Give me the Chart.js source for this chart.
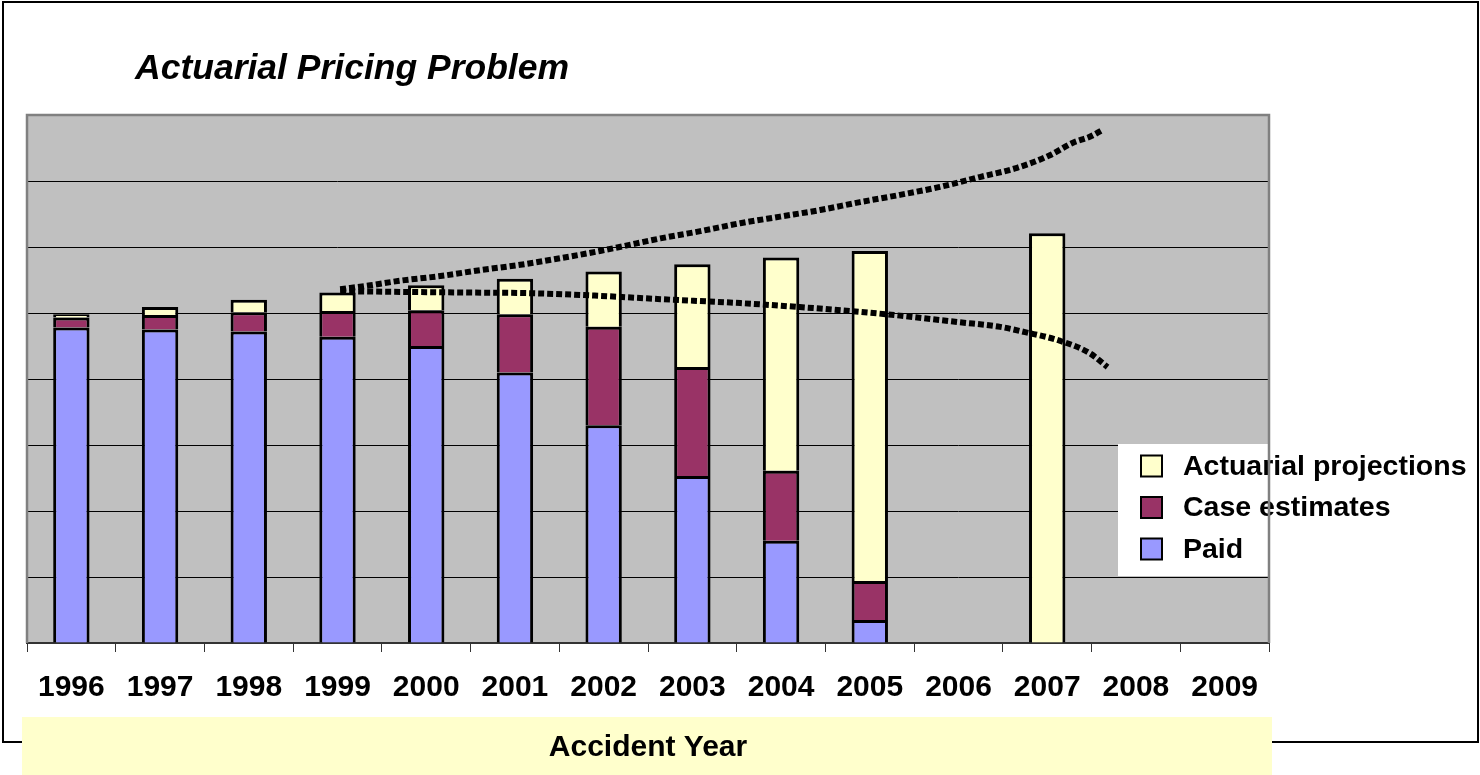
<!DOCTYPE html>
<html>
<head>
<meta charset="utf-8">
<title>Actuarial Pricing Problem</title>
<script src="https://cdn.jsdelivr.net/npm/chart.js@4.4.1/dist/chart.umd.min.js"></script>
<style>
  html, body { margin: 0; padding: 0; background: #ffffff; }
  #wrap { position: relative; width: 1480px; height: 775px; }
</style>
</head>
<body>
<div id="wrap"><canvas id="chart"></canvas></div>
<script>
// Accident years on the category axis
const years = ['1996', '1997', '1998', '1999', '2000', '2001', '2002',
               '2003', '2004', '2005', '2006', '2007', '2008', '2009'];

// Stacked components of ultimate losses per accident year
const paid          = [4.78, 4.75, 4.72, 4.64, 4.50, 4.10, 3.30, 2.53, 1.55, 0.35, null, null, null, null];
const caseEstimates = [0.15, 0.22, 0.29, 0.39, 0.54, 0.88, 1.49, 1.65, 1.06, 0.59, null, null, null, null];
const projections   = [0.05, 0.12, 0.19, 0.28, 0.38, 0.54, 0.84, 1.56, 3.23, 5.00, null, 6.21, null, null];

// Range of possible outcomes (upper and lower dotted curves)
const upperYears  = [1999.03, 1999.37, 1999.71, 2000.16, 2000.61, 2001.06, 2001.51, 2001.96, 2002.18, 2002.64,
                     2003.09, 2003.54, 2003.99, 2004.44, 2004.89, 2005.34, 2005.79, 2006.24, 2006.66, 2007.03,
                     2007.29, 2007.48, 2007.62];
const upperValues = [5.36, 5.42, 5.49, 5.56, 5.65, 5.73, 5.83, 5.94, 6.00, 6.13,
                     6.24, 6.36, 6.46, 6.56, 6.68, 6.79, 6.91, 7.06, 7.20, 7.39,
                     7.58, 7.67, 7.77];
const lowerYears  = [1999.03, 1999.71, 2000.49, 2001.17, 2001.96, 2002.64, 2003.54, 2004.21, 2004.78, 2005.34,
                     2006.01, 2006.47, 2006.75, 2007.14, 2007.48, 2007.68];
const lowerValues = [5.33, 5.32, 5.31, 5.30, 5.26, 5.21, 5.15, 5.09, 5.03, 4.96,
                     4.86, 4.79, 4.71, 4.58, 4.39, 4.18];

const chartTitle = 'Actuarial Pricing Problem';
const axisTitle  = 'Accident Year';

const FONT = "'Liberation Sans', Arial, Helvetica, sans-serif";
const C_PAID = '#9999FF';
const C_CASE = '#993366';
const C_PROJ = '#FFFFCC';

const toPoints = (xs, ys) => xs.map((x, i) => ({ x: x, y: ys[i] }));

// Page frame, title, axis-title band and plot background
const backdrop = {
  id: 'backdrop',
  beforeDraw(chart) {
    const { ctx, chartArea: a } = chart;
    ctx.save();
    ctx.fillStyle = '#ffffff';
    ctx.fillRect(0, 0, chart.width, chart.height);
    ctx.strokeStyle = '#000000';
    ctx.lineWidth = 2;
    ctx.strokeRect(3, 2, 1475, 740);
    ctx.fillStyle = C_PROJ;
    ctx.fillRect(22, 717, 1250, 58);
    ctx.fillStyle = '#C0C0C0';
    ctx.fillRect(a.left, a.top, a.right - a.left, a.bottom - a.top);
    ctx.fillStyle = '#000000';
    ctx.font = 'italic bold 35.5px ' + FONT;
    ctx.textBaseline = 'alphabetic';
    ctx.textAlign = 'left';
    ctx.fillText(chartTitle, 135, 79);
    ctx.restore();
  }
};

// Legend box over the lower right of the plot, then the plot frame
const overlay = {
  id: 'overlay',
  afterDraw(chart) {
    const { ctx, chartArea: a } = chart;
    const items = chart.data.datasets.filter(d => d.type === 'bar').slice().reverse();
    ctx.save();
    ctx.fillStyle = '#ffffff';
    ctx.fillRect(1118, 444, 160, 132);
    ctx.font = 'bold 28.5px ' + FONT;
    ctx.textBaseline = 'middle';
    ctx.textAlign = 'left';
    items.forEach((d, i) => {
      const cy = 466 + i * 41.5;
      ctx.fillStyle = d.backgroundColor;
      ctx.fillRect(1141, cy - 10.5, 21, 21);
      ctx.strokeStyle = '#000000';
      ctx.lineWidth = 2;
      ctx.strokeRect(1141, cy - 10.5, 21, 21);
      ctx.fillStyle = '#000000';
      ctx.fillText(d.label, 1183, cy + 1);
    });
    ctx.strokeStyle = '#808080';
    ctx.lineWidth = 2.5;
    ctx.beginPath();
    ctx.moveTo(a.left, a.bottom);
    ctx.lineTo(a.left, a.top);
    ctx.lineTo(a.right, a.top);
    ctx.lineTo(a.right, a.bottom);
    ctx.stroke();
    ctx.restore();
  }
};

const barStyle = {
  type: 'bar',
  borderColor: '#000000',
  borderWidth: 3,
  barPercentage: 0.41,
  categoryPercentage: 1.0,
  grouped: false,
  xAxisID: 'x',
  yAxisID: 'y',
  stack: 'losses',
  order: 2
};

const lineStyle = {
  type: 'line',
  borderColor: '#000000',
  borderWidth: 6,
  borderDash: [6, 3],
  pointRadius: 0,
  fill: false,
  cubicInterpolationMode: 'monotone',
  xAxisID: 'xl',
  yAxisID: 'y',
  order: 1
};

new Chart(document.getElementById('chart'), {
  data: {
    labels: years,
    datasets: [
      Object.assign({}, barStyle, { label: 'Paid', data: paid, backgroundColor: C_PAID }),
      Object.assign({}, barStyle, { label: 'Case estimates', data: caseEstimates, backgroundColor: C_CASE }),
      Object.assign({}, barStyle, { label: 'Actuarial projections', data: projections, backgroundColor: C_PROJ }),
      Object.assign({}, lineStyle, { label: 'High', data: toPoints(upperYears, upperValues), stack: 'high' }),
      Object.assign({}, lineStyle, { label: 'Low', data: toPoints(lowerYears, lowerValues), stack: 'low' })
    ]
  },
  options: {
    responsive: true,
    maintainAspectRatio: false,
    animation: false,
    events: [],
    layout: { padding: { left: 27, right: 211, top: 115, bottom: 0 } },
    plugins: {
      legend: { display: false },
      title: { display: false },
      tooltip: { enabled: false }
    },
    scales: {
      x: {
        type: 'category',
        stacked: true,
        offset: true,
        grid: { offset: true, drawOnChartArea: false, drawTicks: true, tickLength: 9, color: '#333333', lineWidth: 1 },
        border: { color: '#333333', width: 2 },
        ticks: { color: '#000000', padding: 18, maxRotation: 0, autoSkip: false,
                 font: { family: FONT, size: 30, weight: 'bold' } },
        title: { display: true, text: axisTitle, color: '#000000',
                 font: { family: FONT, size: 30, weight: 'bold' },
                 padding: { top: 6, bottom: 9 } }
      },
      xl: {
        type: 'linear',
        display: false,
        min: 1995.5,
        max: 2009.5
      },
      y: {
        stacked: true,
        min: 0,
        max: 8,
        ticks: { display: false, stepSize: 1 },
        grid: { color: '#000000', lineWidth: 1, drawTicks: false },
        border: { display: false }
      }
    }
  },
  plugins: [backdrop, overlay]
});
</script>
</body>
</html>
